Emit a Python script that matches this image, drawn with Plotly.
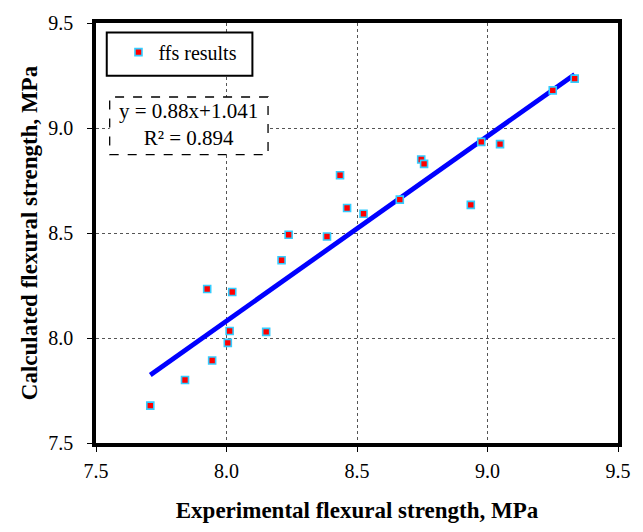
import plotly.graph_objects as go

experimental = [7.708, 7.841, 7.945, 7.926, 8.005, 8.012, 8.022, 8.152, 8.211, 8.238, 8.385,
                8.435, 8.462, 8.525, 8.664, 8.746, 8.757, 8.936, 8.976, 9.048, 9.250, 9.334]
calculated = [7.678, 7.800, 7.893, 8.233, 7.977, 8.033, 8.219, 8.029, 8.370, 8.492, 8.483,
              8.775, 8.619, 8.592, 8.659, 8.850, 8.829, 8.634, 8.934, 8.923, 9.179, 9.235]
slope, intercept, r2 = 0.88, 1.041, 0.894
x_ticks = [7.5, 8.0, 8.5, 9.0, 9.5]
y_ticks = [7.5, 8.0, 8.5, 9.0, 9.5]

x_fit = [min(experimental), max(experimental)]
y_fit = [slope * v + intercept for v in x_fit]

FONT = "Liberation Serif, Times New Roman, serif"
L, R, T, B = 96, 630, 15, 452
PW, PH = R - L, B - T


def px(x):
    return (x - L) / PW


def py(y):
    return (B - y) / PH


fig = go.Figure()
fig.add_trace(go.Scatter(x=x_fit, y=y_fit, mode="lines",
                         line=dict(color="#0000FF", width=4.8), showlegend=False))
fig.add_trace(go.Scatter(x=experimental, y=calculated, mode="markers", name="ffs results",
                         marker=dict(symbol="square", size=7, color="#FF0000",
                                     line=dict(color="#33CCFF", width=1.6))))

axis_common = dict(
    showline=True, linecolor="black", linewidth=3.5, mirror=True,
    ticks="outside", ticklen=5, tickwidth=1, tickcolor="black",
    showgrid=True, gridcolor="#555555", griddash="dot", gridwidth=1,
    zeroline=False, tickformat=".1f",
    tickfont=dict(family=FONT, size=20, color="black"),
)
fig.update_xaxes(range=[7.5, 9.5], tickvals=x_ticks, **axis_common, ticklabelstandoff=2,
                 title=dict(text="<b>Experimental flexural strength, MPa</b>",
                            font=dict(family=FONT, size=23, color="black"), standoff=22))
fig.update_yaxes(range=[7.5, 9.5], tickvals=y_ticks, **axis_common, ticklabelstandoff=10,
                 title=dict(text="<b>Calculated flexural strength, MPa</b>",
                            font=dict(family=FONT, size=23, color="black"), standoff=5))

# legend box
fig.add_shape(type="rect", xref="paper", yref="paper",
              x0=px(107), x1=px(256), y0=py(70), y1=py(25),
              line=dict(color="black", width=2), fillcolor="white", layer="above")
# equation box
fig.add_shape(type="rect", xref="paper", yref="paper",
              x0=px(110), x1=px(272), y0=py(152), y1=py(92),
              line=dict(color="black", width=1.3, dash="dash"), fillcolor="white", layer="above")
fig.add_annotation(xref="paper", yref="paper", x=px(191), y=py(121),
                   xanchor="center", yanchor="middle",
                   text=f"y = {slope}x+{intercept}<br>R² = {r2}",
                   showarrow=False, align="center",
                   font=dict(family=FONT, size=21, color="black"))

fig.update_layout(
    width=643, height=532,
    margin=dict(l=L, r=643 - R, t=T, b=532 - B),
    plot_bgcolor="white", paper_bgcolor="white",
    legend=dict(x=px(119), y=py(25), xanchor="left", yanchor="top",
                bgcolor="rgba(0,0,0,0)", borderwidth=0,
                font=dict(family=FONT, size=20, color="black")),
)

fig.write_html("out.html")
